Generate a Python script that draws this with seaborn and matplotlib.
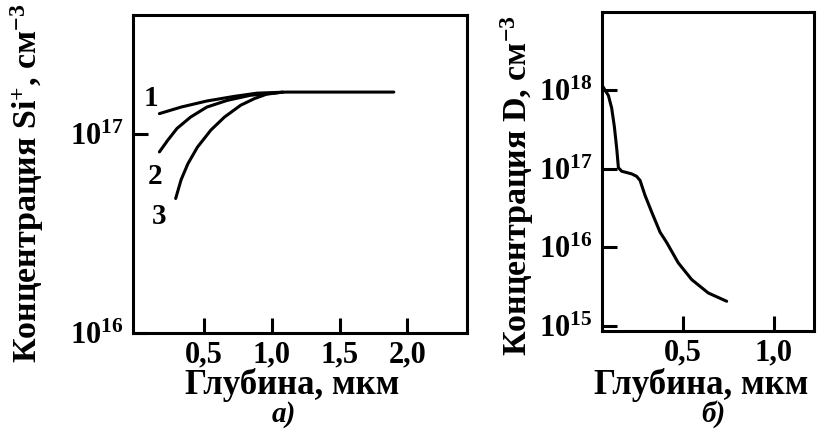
import numpy as np
import pandas as pd
import matplotlib
matplotlib.use("Agg")
import matplotlib.pyplot as plt
from matplotlib.ticker import NullLocator
import seaborn as sns

# Panel (a): Si+ concentration profiles, curves 1-3
depth_1 = [0.17, 0.33, 0.52, 0.72, 0.89, 1.11, 1.90]
conc_1 = [1.27e17, 1.37e17, 1.47e17, 1.55e17, 1.61e17, 1.63e17, 1.63e17]

depth_2 = [0.17, 0.23, 0.30, 0.40, 0.52, 0.67, 0.84, 1.05]
conc_2 = [8.15e16, 9.3e16, 1.07e17, 1.22e17, 1.37e17, 1.48e17, 1.57e17, 1.62e17]

depth_3 = [0.29, 0.33, 0.38, 0.45, 0.55, 0.65, 0.77, 0.87, 0.96, 1.08]
conc_3 = [4.75e16, 5.9e16, 7.1e16, 8.6e16, 1.05e17, 1.22e17, 1.40e17, 1.51e17, 1.59e17, 1.63e17]

# Panel (b): deuterium concentration profile
depth_d = [0.057, 0.090, 0.108, 0.123, 0.136, 0.145, 0.163, 0.218, 0.245, 0.264,
           0.291, 0.328, 0.374, 0.410, 0.474, 0.548, 0.639, 0.740]
conc_d = [1.14e18, 8.6e17, 5.96e17, 3.42e17, 1.79e17, 1.03e17, 9.3e16, 8.6e16, 8.0e16, 7.1e16,
          4.6e16, 2.8e16, 1.55e16, 1.15e16, 6.3e15, 3.85e15, 2.6e15, 2.04e15]

xticks_a = [0.5, 1.0, 1.5, 2.0]
xticklabels_a = ["0,5", "1,0", "1,5", "2,0"]
yticks_a = [1e16, 1e17]
yticklabels_a = [r"$10^{16}$", r"$10^{17}$"]

xticks_b = [0.5, 1.0]
xticklabels_b = ["0,5", "1,0"]
yticks_b = [1e15, 1e16, 1e17, 1e18]
yticklabels_b = [r"$10^{15}$", r"$10^{16}$", r"$10^{17}$", r"$10^{18}$"]

curve_names = ["1", "2", "3"]

df_a = pd.concat([
    pd.DataFrame({"depth": d, "conc": c, "curve": n})
    for d, c, n in zip([depth_1, depth_2, depth_3], [conc_1, conc_2, conc_3], curve_names)
], ignore_index=True)
df_b = pd.DataFrame({"depth": depth_d, "conc": conc_d})

sns.set_style("ticks")
plt.rcParams["font.family"] = ["Liberation Serif", "DejaVu Serif"]
plt.rcParams["font.weight"] = "bold"
plt.rcParams["text.color"] = "black"
plt.rcParams["axes.labelcolor"] = "black"
plt.rcParams["xtick.color"] = "black"
plt.rcParams["ytick.color"] = "black"
plt.rcParams["mathtext.fontset"] = "custom"
plt.rcParams["mathtext.rm"] = "Liberation Serif:bold"
plt.rcParams["mathtext.it"] = "Liberation Serif:bold:italic"
plt.rcParams["mathtext.bf"] = "Liberation Serif:bold"
plt.rcParams["mathtext.default"] = "rm"

TICK_FS = 22
XLABEL_FS = 25
YLABEL_FS = 24.5
LW = 2.2

fig = plt.figure(figsize=(8.24, 4.30), dpi=100)
ax_a = fig.add_axes([0.1614, 0.2256, 0.4053, 0.7395])
ax_b = fig.add_axes([0.7306, 0.2302, 0.2573, 0.742])

sns.lineplot(data=df_a, x="depth", y="conc", hue="curve",
             palette={n: "black" for n in curve_names}, estimator=None,
             sort=False, linewidth=LW, legend=False, ax=ax_a)
sns.lineplot(data=df_b, x="depth", y="conc", color="black", estimator=None,
             sort=False, linewidth=LW, ax=ax_b)

for ax in (ax_a, ax_b):
    ax.set_yscale("log")
    ax.yaxis.set_minor_locator(NullLocator())
    ax.xaxis.set_minor_locator(NullLocator())
    for sp in ax.spines.values():
        sp.set_visible(True)
        sp.set_linewidth(LW)
        sp.set_color("black")
    ax.tick_params(direction="in", length=11, width=LW, labelsize=TICK_FS,
                   colors="black", pad=7)
    ax.tick_params(axis="x", pad=5)
    ax.set_facecolor("white")

ax_a.set_xlim(-0.025, 2.44)
ax_a.set_ylim(1e16, 10 ** 17.6)
ax_a.set_xticks(xticks_a)
ax_a.set_xticklabels(xticklabels_a)
ax_a.set_yticks(yticks_a)
ax_a.set_yticklabels(yticklabels_a)

ax_b.set_xlim(0.055, 1.22)
ax_b.set_ylim(10 ** 14.93, 10 ** 19.0)
ax_b.set_xticks(xticks_b)
ax_b.set_xticklabels(xticklabels_b)
ax_b.set_yticks(yticks_b)
ax_b.set_yticklabels(yticklabels_b)

ax_a.set_xlabel("Глубина, мкм", fontsize=XLABEL_FS, fontweight="bold", va="baseline")
ax_a.xaxis.set_label_coords(0.476, -0.192)
ax_a.set_ylabel(r"Концентрация Si$^{+}$, см$^{-3}$", fontsize=YLABEL_FS,
                fontweight="bold", va="center")
ax_a.yaxis.set_label_coords(-0.316, 0.472)

ax_b.set_xlabel("Глубина, мкм", fontsize=XLABEL_FS, fontweight="bold", va="baseline")
ax_b.xaxis.set_label_coords(0.467, -0.197)
ax_b.set_ylabel(r"Концентрация D, см$^{-3}$", fontsize=YLABEL_FS,
                fontweight="bold", va="center")
ax_b.yaxis.set_label_coords(-0.40, 0.455)

# curve numbers
for name, (x, y) in zip(curve_names, [(0.11, 1.52e17), (0.14, 6.1e16), (0.17, 3.85e16)]):
    ax_a.text(x, y, name, fontsize=21, fontweight="bold", ha="center", va="center")

fig.text(284 / 824, 1 - 422 / 430, "а)", fontsize=21, fontweight="bold",
         fontstyle="italic", ha="center", va="baseline")
fig.text(713 / 824, 1 - 422 / 430, "б)", fontsize=21, fontweight="bold",
         fontstyle="italic", ha="center", va="baseline")

fig.savefig("out.png", dpi=100, facecolor="white")
